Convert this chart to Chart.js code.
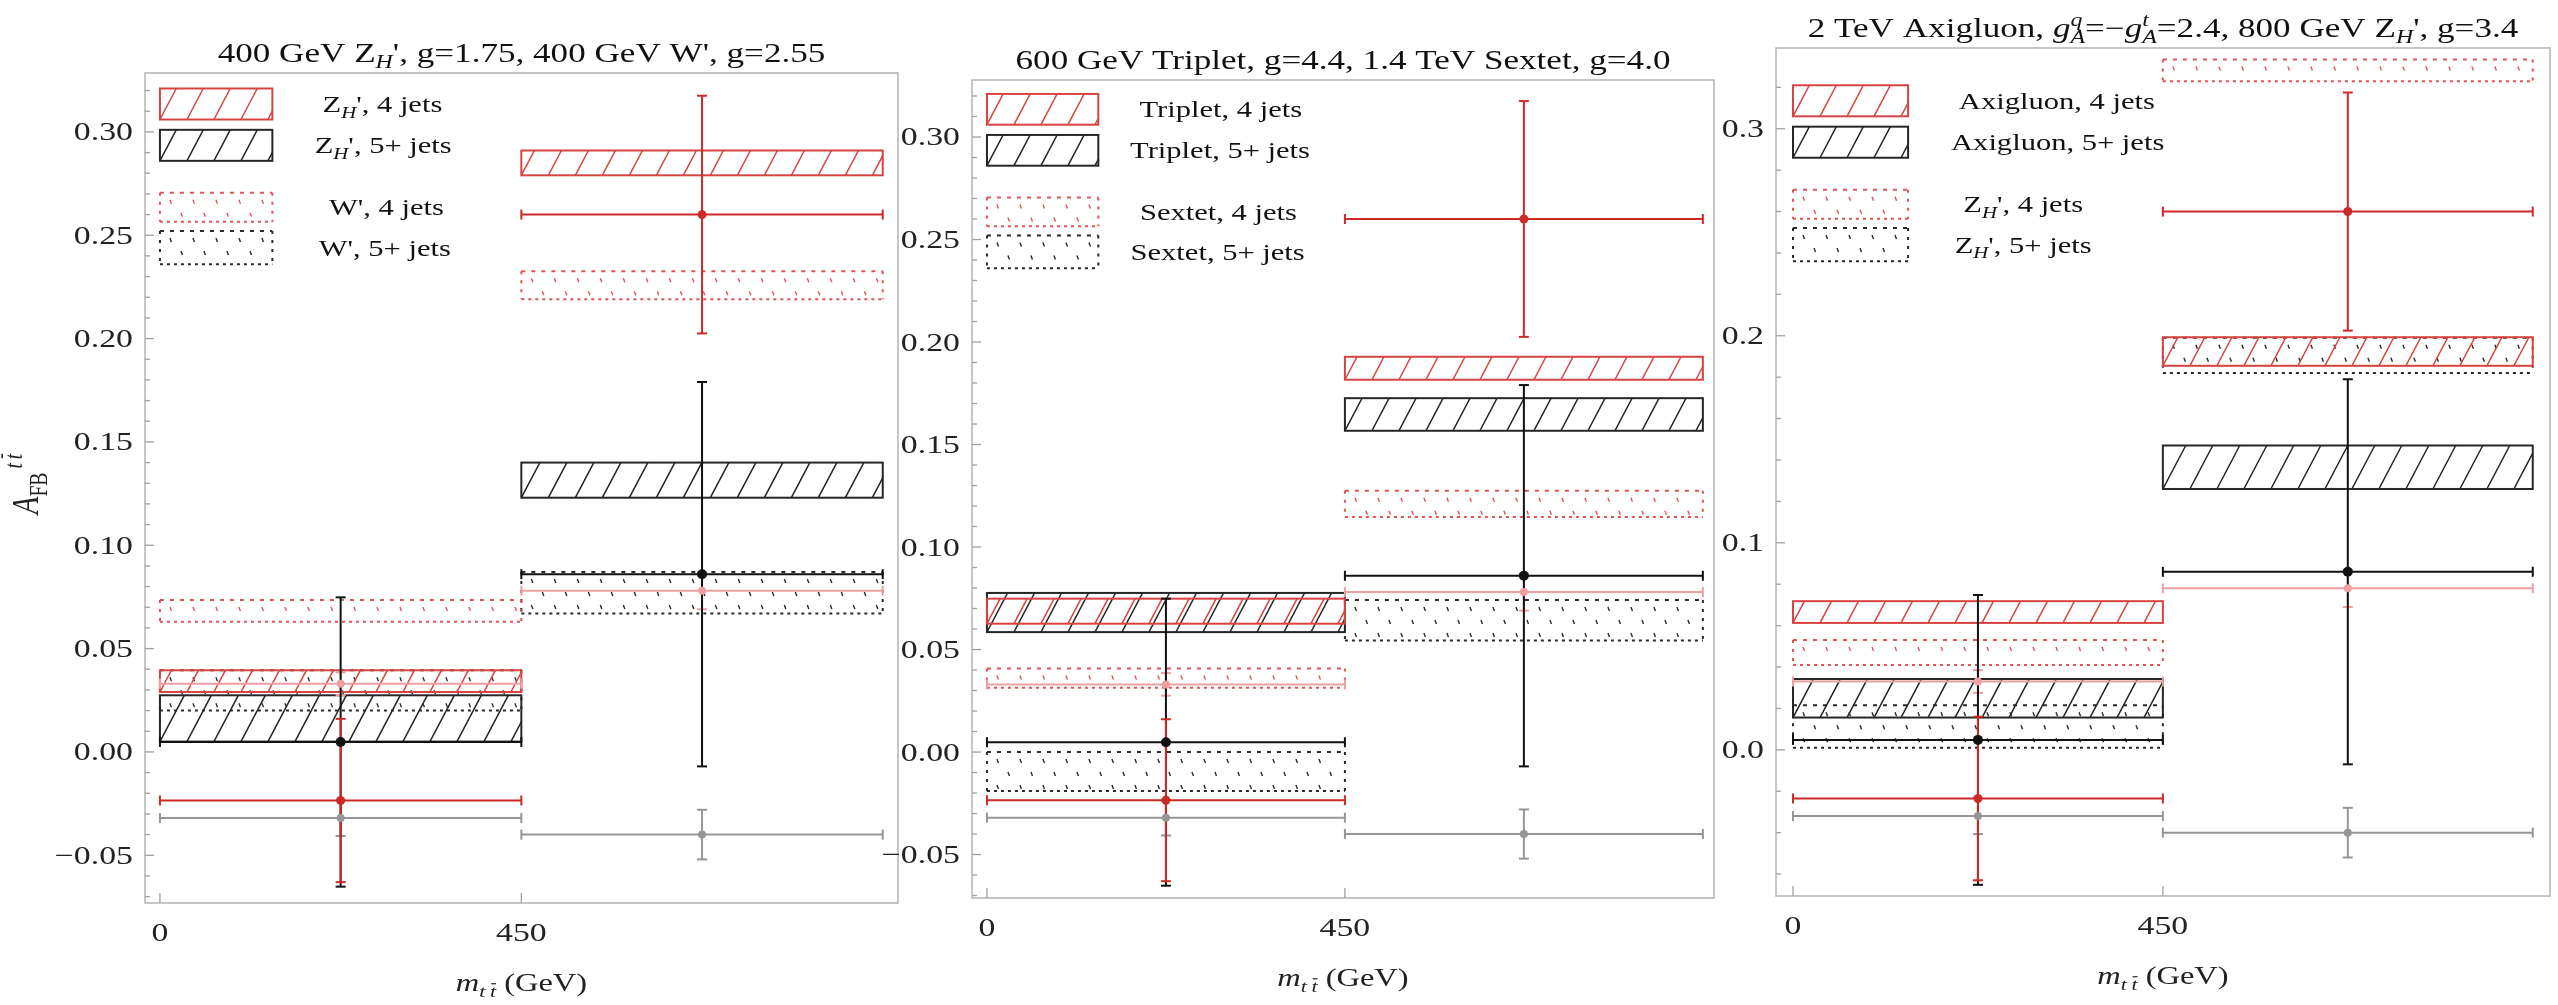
<!DOCTYPE html>
<html><head><meta charset="utf-8">
<script src="https://cdn.jsdelivr.net/npm/chart.js@4.4.0/dist/chart.umd.min.js"></script>
<style>
html,body{margin:0;padding:0;background:#fff;width:2558px;height:1005px;overflow:hidden;}
canvas{position:absolute;top:0;}
</style></head><body>
<canvas id="c1"></canvas><canvas id="c2"></canvas><canvas id="c3"></canvas>
<script>
// ================= DATA =================
const xTickValues = [0, 450];
const xTickLabels = ['0', '450'];
const binEdges = [0, 450, 900];
const binCenters = [225, 675];

// measured asymmetries (same in every panel)
const dataFourJets = [-0.0235, 0.260];
const dataFourJetsErr = [0.0395, 0.0575];
const dataFiveJets = [0.0048, 0.086];
const dataFiveJetsErr = [0.070, 0.093];
const smFourJets = [0.033, 0.078];
const smFourJetsErr = [0.0055, 0.009];
const smFiveJets = [-0.032, -0.040];
const smFiveJetsErr = [0.0087, 0.012];

// y tick labels
const yMajorA = [-0.05, 0.00, 0.05, 0.10, 0.15, 0.20, 0.25, 0.30];
const yLabelsA = ['\u22120.05', '0.00', '0.05', '0.10', '0.15', '0.20', '0.25', '0.30'];
const yMajorB = [0.0, 0.1, 0.2, 0.3];
const yLabelsB = ['0.0', '0.1', '0.2', '0.3'];

// panel 1 : 400 GeV Z_H' and 400 GeV W'
const zh400FourLo = [0.029, 0.279];
const zh400FourHi = [0.0395, 0.291];
const zh400FiveLo = [0.005, 0.123];
const zh400FiveHi = [0.0274, 0.140];
const w400FourLo = [0.063, 0.219];
const w400FourHi = [0.0735, 0.2326];
const w400FiveLo = [0.020, 0.067];
const w400FiveHi = [0.0395, 0.087];

// panel 2 : 600 GeV Triplet and 1.4 TeV Sextet
const tripFourLo = [0.0626, 0.1816];
const tripFourHi = [0.0748, 0.1928];
const tripFiveLo = [0.0585, 0.1567];
const tripFiveHi = [0.0776, 0.1726];
const sextFourLo = [0.0314, 0.1147];
const sextFourHi = [0.0407, 0.1274];
const sextFiveLo = [-0.019, 0.0544];
const sextFiveHi = [0.000, 0.0742];

// panel 3 : 2 TeV Axigluon and 800 GeV Z_H'
const axiFourLo = [0.0613, 0.1855];
const axiFourHi = [0.0718, 0.1993];
const axiFiveLo = [0.0156, 0.126];
const axiFiveHi = [0.0342, 0.147];
const zh800FourLo = [0.041, 0.323];
const zh800FourHi = [0.053, 0.3335];
const zh800FiveLo = [0.001, 0.182];
const zh800FiveHi = [0.0215, 0.199];

// ================= STYLE / LAYOUT =================
const RED_DATA = 'rgb(204,42,40)';
const BLACK_DATA = '#111';
const PINK = 'rgb(236,160,160)';
const GRAY = 'rgb(150,150,150)';
const RED_H = 'rgb(214,68,66)';
const BLK_H = '#262626';
const RED_D = 'rgb(222,85,85)';
const BLK_D = '#2a2a2a';
const FRAME = '#b4b4b4';
const SX = 1.3;
const FONT = '"Liberation Serif", "Times New Roman", serif';

const legendRows = [ [0.306, 0.321], [0.286, 0.301], [0.2565, 0.2705], [0.236, 0.252] ];
const legendX = [0, 140];

const Z_H = (rest) => [{t:'Z'},{t:'H',k:'sub',it:true},{t:rest}];

const panels = [
  { canvas:'c1', canvasLeft:0, frame:{l:145,r:899,t:73,b:903},
    xMin:-18.6, xMax:919, yMin:-0.0731, yMax:0.3285,
    minor:{from:-0.07,to:0.32,step:0.01}, major:yMajorA, labels:yLabelsA,
    title:[{t:'400 GeV Z'},{t:'H',k:'sub',it:true},{t:"', g=1.75, 400 GeV W', g=2.55"}],
    boxes:[
      {lo:w400FiveLo, hi:w400FiveHi, kind:'dots', color:BLK_D},
      {lo:w400FourLo, hi:w400FourHi, kind:'dots', color:RED_D},
      {lo:zh400FiveLo, hi:zh400FiveHi, kind:'hatch', color:BLK_H},
      {lo:zh400FourLo, hi:zh400FourHi, kind:'hatch', color:RED_H}],
    legend:[
      {kind:'hatch', color:RED_H, text:Z_H("', 4 jets"), cx:277},
      {kind:'hatch', color:BLK_H, text:Z_H("', 5+ jets"), cx:278},
      {kind:'dots', color:RED_D, text:[{t:"W', 4 jets"}], cx:282},
      {kind:'dots', color:BLK_D, text:[{t:"W', 5+ jets"}], cx:280}],
    yTitle:true },
  { canvas:'c2', canvasLeft:880, frame:{l:972,r:1715,t:80,b:898},
    xMin:-18.8, xMax:914, yMin:-0.0712, yMax:0.3278,
    minor:{from:-0.07,to:0.32,step:0.01}, major:yMajorA, labels:yLabelsA,
    title:[{t:'600 GeV Triplet, g=4.4, 1.4 TeV Sextet, g=4.0'}],
    boxes:[
      {lo:sextFiveLo, hi:sextFiveHi, kind:'dots', color:BLK_D},
      {lo:sextFourLo, hi:sextFourHi, kind:'dots', color:RED_D},
      {lo:tripFiveLo, hi:tripFiveHi, kind:'hatch', color:BLK_H},
      {lo:tripFourLo, hi:tripFourHi, kind:'hatch', color:RED_H}],
    legend:[
      {kind:'hatch', color:RED_H, text:[{t:'Triplet, 4 jets'}], cx:294},
      {kind:'hatch', color:BLK_H, text:[{t:'Triplet, 5+ jets'}], cx:293},
      {kind:'dots', color:RED_D, text:[{t:'Sextet, 4 jets'}], cx:291},
      {kind:'dots', color:BLK_D, text:[{t:'Sextet, 5+ jets'}], cx:290}],
    yTitle:false },
  { canvas:'c3', canvasLeft:1700, frame:{l:1776,r:2551,t:48,b:896},
    xMin:-20.7, xMax:921, yMin:-0.0706, yMax:0.339,
    minor:{from:-0.06,to:0.32,step:0.02}, major:yMajorB, labels:yLabelsB,
    title:[{t:'2 TeV Axigluon, '},{t:'g',it:true},{t:'A',k:'sub',it:true},{t:'q',k:'sup',it:true,back:true},
           {t:'=\u2212'},{t:'g',it:true},{t:'A',k:'sub',it:true},{t:'t',k:'sup',it:true,back:true},
           {t:'=2.4, 800 GeV Z'},{t:'H',k:'sub',it:true},{t:"', g=3.4"}],
    boxes:[
      {lo:zh800FiveLo, hi:zh800FiveHi, kind:'dots', color:BLK_D},
      {lo:zh800FourLo, hi:zh800FourHi, kind:'dots', color:RED_D},
      {lo:axiFiveLo, hi:axiFiveHi, kind:'hatch', color:BLK_H},
      {lo:axiFourLo, hi:axiFourHi, kind:'hatch', color:RED_H}],
    legend:[
      {kind:'hatch', color:RED_H, text:[{t:'Axigluon, 4 jets'}], cx:321},
      {kind:'hatch', color:BLK_H, text:[{t:'Axigluon, 5+ jets'}], cx:322},
      {kind:'dots', color:RED_D, text:Z_H("', 4 jets"), cx:280},
      {kind:'dots', color:BLK_D, text:Z_H("', 5+ jets"), cx:280}],
    yTitle:false }
];

const series = [
  {v:smFiveJets, e:smFiveJetsErr, color:GRAY, r:4},
  {v:smFourJets, e:smFourJetsErr, color:PINK, r:4},
  {v:dataFiveJets, e:dataFiveJetsErr, color:BLACK_DATA, r:5},
  {v:dataFourJets, e:dataFourJetsErr, color:RED_DATA, r:4.5}
];

// ================= DRAW HELPERS =================
function fontStr(size, it){ return (it ? 'italic ' : '') + size.toFixed(1) + 'px ' + FONT; }
function layoutRich(ctx, segs, size){
  let x = 0, prevStart = 0; const items = [];
  segs.forEach(s => {
    const k = s.k || 'n';
    const sz = (k === 'sub' || k === 'sup') ? size * 0.68 : size;
    ctx.font = fontStr(sz, s.it);
    const w = ctx.measureText(s.t).width;
    const x0 = s.back ? prevStart : x;
    const dy = k === 'sub' ? size * 0.24 : (k === 'sup' ? -size * 0.42 : 0);
    items.push({t:s.t, x:x0, dy, sz, it:s.it, w, ov:s.ov});
    if (!s.back) prevStart = x0;
    x = Math.max(x, x0 + w);
  });
  return {items, width:x};
}
function drawRich(ctx, segs, x, y, size, align, color, rotate){
  ctx.save();
  ctx.translate(x, y);
  if (rotate){ ctx.rotate(-Math.PI/2); ctx.scale(1, SX); } else { ctx.scale(SX, 1); }
  const L = layoutRich(ctx, segs, size);
  const off = align === 'center' ? -L.width/2 : (align === 'right' ? -L.width : 0);
  ctx.fillStyle = color; ctx.strokeStyle = color;
  ctx.textAlign = 'left'; ctx.textBaseline = 'alphabetic';
  L.items.forEach(it => {
    ctx.font = fontStr(it.sz, it.it);
    ctx.fillText(it.t, off + it.x, it.dy);
    if (it.ov){
      ctx.lineWidth = 1.2; ctx.beginPath();
      const yy = it.dy - it.sz * 0.78;
      ctx.moveTo(off + it.x + 1, yy); ctx.lineTo(off + it.x + it.w, yy); ctx.stroke();
    }
  });
  ctx.restore();
}
function seg(ctx, x1, y1, x2, y2){ ctx.beginPath(); ctx.moveTo(x1, y1); ctx.lineTo(x2, y2); ctx.stroke(); }

function drawHatchBox(ctx, l, t, r, b, color){
  ctx.save();
  ctx.strokeStyle = color; ctx.lineWidth = 2;
  ctx.strokeRect(l, t, r - l, b - t);
  ctx.beginPath(); ctx.rect(l, t, r - l, b - t); ctx.clip();
  ctx.lineWidth = 1.5;
  const h = b - t, dx = h / 1.9, step = 27;
  ctx.beginPath();
  for (let x = l; x < r; x += step){ ctx.moveTo(x, b); ctx.lineTo(x + dx, t); }
  ctx.stroke();
  ctx.restore();
}
function drawDotBox(ctx, l, t, r, b, color){
  ctx.save();
  ctx.strokeStyle = color; ctx.fillStyle = color; ctx.lineWidth = 2;
  ctx.setLineDash([4, 6]); seg(ctx, l, t, r, t);
  ctx.setLineDash([3, 4]); seg(ctx, l, b, r, b);
  ctx.setLineDash([3, 6]); seg(ctx, l, t, l, b); seg(ctx, r, t, r, b);
  ctx.setLineDash([]);
  ctx.lineWidth = 1.4;
  let row = 0;
  for (let y = t + 7; y < b - 5; y += 13, row++){
    for (let x = l + 10 + (row % 2) * 11; x < r - 4; x += 23){
      seg(ctx, x, y, x + 1.5, y + 4);
    }
  }
  ctx.restore();
}
function drawBox(ctx, kind, l, t, r, b, color){
  if (kind === 'hatch') drawHatchBox(ctx, l, t, r, b, color); else drawDotBox(ctx, l, t, r, b, color);
}

function makePlugin(P){
  return {
    id: 'atb_' + P.canvas,
    beforeDatasetsDraw(chart){
      const ctx = chart.ctx, xs = chart.scales.x, ys = chart.scales.y, ca = chart.chartArea;
      ctx.save();
      ctx.beginPath(); ctx.rect(ca.left, ca.top, ca.right - ca.left, ca.bottom - ca.top); ctx.clip();
      // model boxes
      P.boxes.forEach(B => {
        for (let i = 0; i < B.lo.length; i++){
          drawBox(ctx, B.kind, xs.getPixelForValue(binEdges[i]), ys.getPixelForValue(B.hi[i]),
                  xs.getPixelForValue(binEdges[i+1]), ys.getPixelForValue(B.lo[i]), B.color);
        }
      });
      // legend swatches + labels
      P.legend.forEach((L, k) => {
        const l = xs.getPixelForValue(legendX[0]), r = xs.getPixelForValue(legendX[1]);
        const t = ys.getPixelForValue(legendRows[k][1]), b = ys.getPixelForValue(legendRows[k][0]);
        drawBox(ctx, L.kind, l, t, r, b, L.color);
        drawRich(ctx, L.text, xs.getPixelForValue(L.cx), (t + b)/2 + 8, 23.5, 'center', '#111', false);
      });
      // error bars
      const cap = 5;
      series.forEach(S => {
        ctx.strokeStyle = S.color; ctx.lineWidth = 2;
        for (let i = 0; i < S.v.length; i++){
          const y = ys.getPixelForValue(S.v[i]);
          const x1 = xs.getPixelForValue(binEdges[i]), x2 = xs.getPixelForValue(binEdges[i+1]);
          const xc = xs.getPixelForValue(binCenters[i]);
          const yt = ys.getPixelForValue(S.v[i] + S.e[i]), yb = ys.getPixelForValue(S.v[i] - S.e[i]);
          seg(ctx, x1, y, x2, y);
          seg(ctx, x1, y - cap, x1, y + cap); seg(ctx, x2, y - cap, x2, y + cap);
          seg(ctx, xc, yt, xc, yb);
          seg(ctx, xc - cap, yt, xc + cap, yt); seg(ctx, xc - cap, yb, xc + cap, yb);
        }
      });
      ctx.restore();
    },
    afterDraw(chart){
      const ctx = chart.ctx, xs = chart.scales.x, ys = chart.scales.y, ca = chart.chartArea;
      ctx.save();
      // frame
      ctx.strokeStyle = FRAME; ctx.lineWidth = 1.5;
      ctx.strokeRect(ca.left, ca.top, ca.right - ca.left, ca.bottom - ca.top);
      // y ticks
      ctx.strokeStyle = '#a0a0a0'; ctx.lineWidth = 1.3;
      ys.ticks.forEach(tk => {
        const y = ys.getPixelForValue(tk.value);
        const isMajor = P.major.some(m => Math.abs(m - tk.value) < 1e-6);
        seg(ctx, ca.left, y, ca.left + (isMajor ? 9 : 5), y);
      });
      xs.ticks.forEach(tk => {
        const x = xs.getPixelForValue(tk.value);
        seg(ctx, x, ca.bottom, x, ca.bottom - 10);
      });
      // tick labels
      P.major.forEach((v, i) => {
        drawRich(ctx, [{t:P.labels[i]}], ca.left - 12, ys.getPixelForValue(v) + 8.5, 26, 'right', '#222', false);
      });
      xTickValues.forEach((v, i) => {
        drawRich(ctx, [{t:xTickLabels[i]}], xs.getPixelForValue(v), ca.bottom + 38, 26, 'center', '#222', false);
      });
      // axis titles
      const cx = (ca.left + ca.right) / 2;
      drawRich(ctx, [{t:'m',it:true},{t:'t\u2009',k:'sub',it:true},{t:'t',k:'sub',it:true,ov:true},{t:' (GeV)'}],
               cx, ca.bottom + 88, 25, 'center', '#222', false);
      if (P.yTitle){
        drawRich(ctx, [{t:'A',it:true},{t:'FB',k:'sub'},{t:'\u2009t\u2009',k:'sup',it:true},{t:'t',k:'sup',it:true,ov:true}],
                 38, (ca.top + ca.bottom)/2 - 4, 29, 'center', '#222', true);
      }
      // title
      drawRich(ctx, P.title, cx, ca.top - 11, 27, 'center', '#111', false);
      ctx.restore();
    }
  };
}

function pts(vals){ return vals.map((v, i) => ({x: binCenters[i], y: v})); }

panels.forEach(P => {
  const cv = document.getElementById(P.canvas);
  const W = P.frame.r - P.canvasLeft + 4;
  cv.width = W; cv.height = 1005;
  cv.style.left = P.canvasLeft + 'px';
  cv.style.width = W + 'px'; cv.style.height = '1005px';
  new Chart(cv, {
    type: 'scatter',
    data: { datasets: series.map(S => ({
      data: pts(S.v), showLine: false,
      pointRadius: S.r, pointHoverRadius: S.r, pointBorderWidth: 0,
      pointBackgroundColor: S.color, backgroundColor: S.color, borderColor: S.color
    })) },
    options: {
      responsive: false, animation: false, devicePixelRatio: 1,
      events: [],
      layout: { padding: { top: P.frame.t, right: 4, left: 0, bottom: 0 } },
      plugins: { legend: {display:false}, tooltip: {enabled:false}, title: {display:false} },
      scales: {
        x: { type:'linear', min:P.xMin, max:P.xMax,
             grid:{display:false}, border:{display:false}, ticks:{display:false},
             afterBuildTicks: a => { a.ticks = xTickValues.map(v => ({value:v})); },
             afterFit: s => { s.height = 1005 - P.frame.b; } },
        y: { type:'linear', min:P.yMin, max:P.yMax,
             grid:{display:false}, border:{display:false}, ticks:{display:false},
             afterBuildTicks: a => {
               const t = [];
               const n = Math.round((P.minor.to - P.minor.from) / P.minor.step);
               for (let k = 0; k <= n; k++) t.push({value: +(P.minor.from + k * P.minor.step).toFixed(4)});
               a.ticks = t;
             },
             afterFit: s => { s.width = P.frame.l - P.canvasLeft; } }
      }
    },
    plugins: [makePlugin(P)]
  });
});
</script>
</body></html>
